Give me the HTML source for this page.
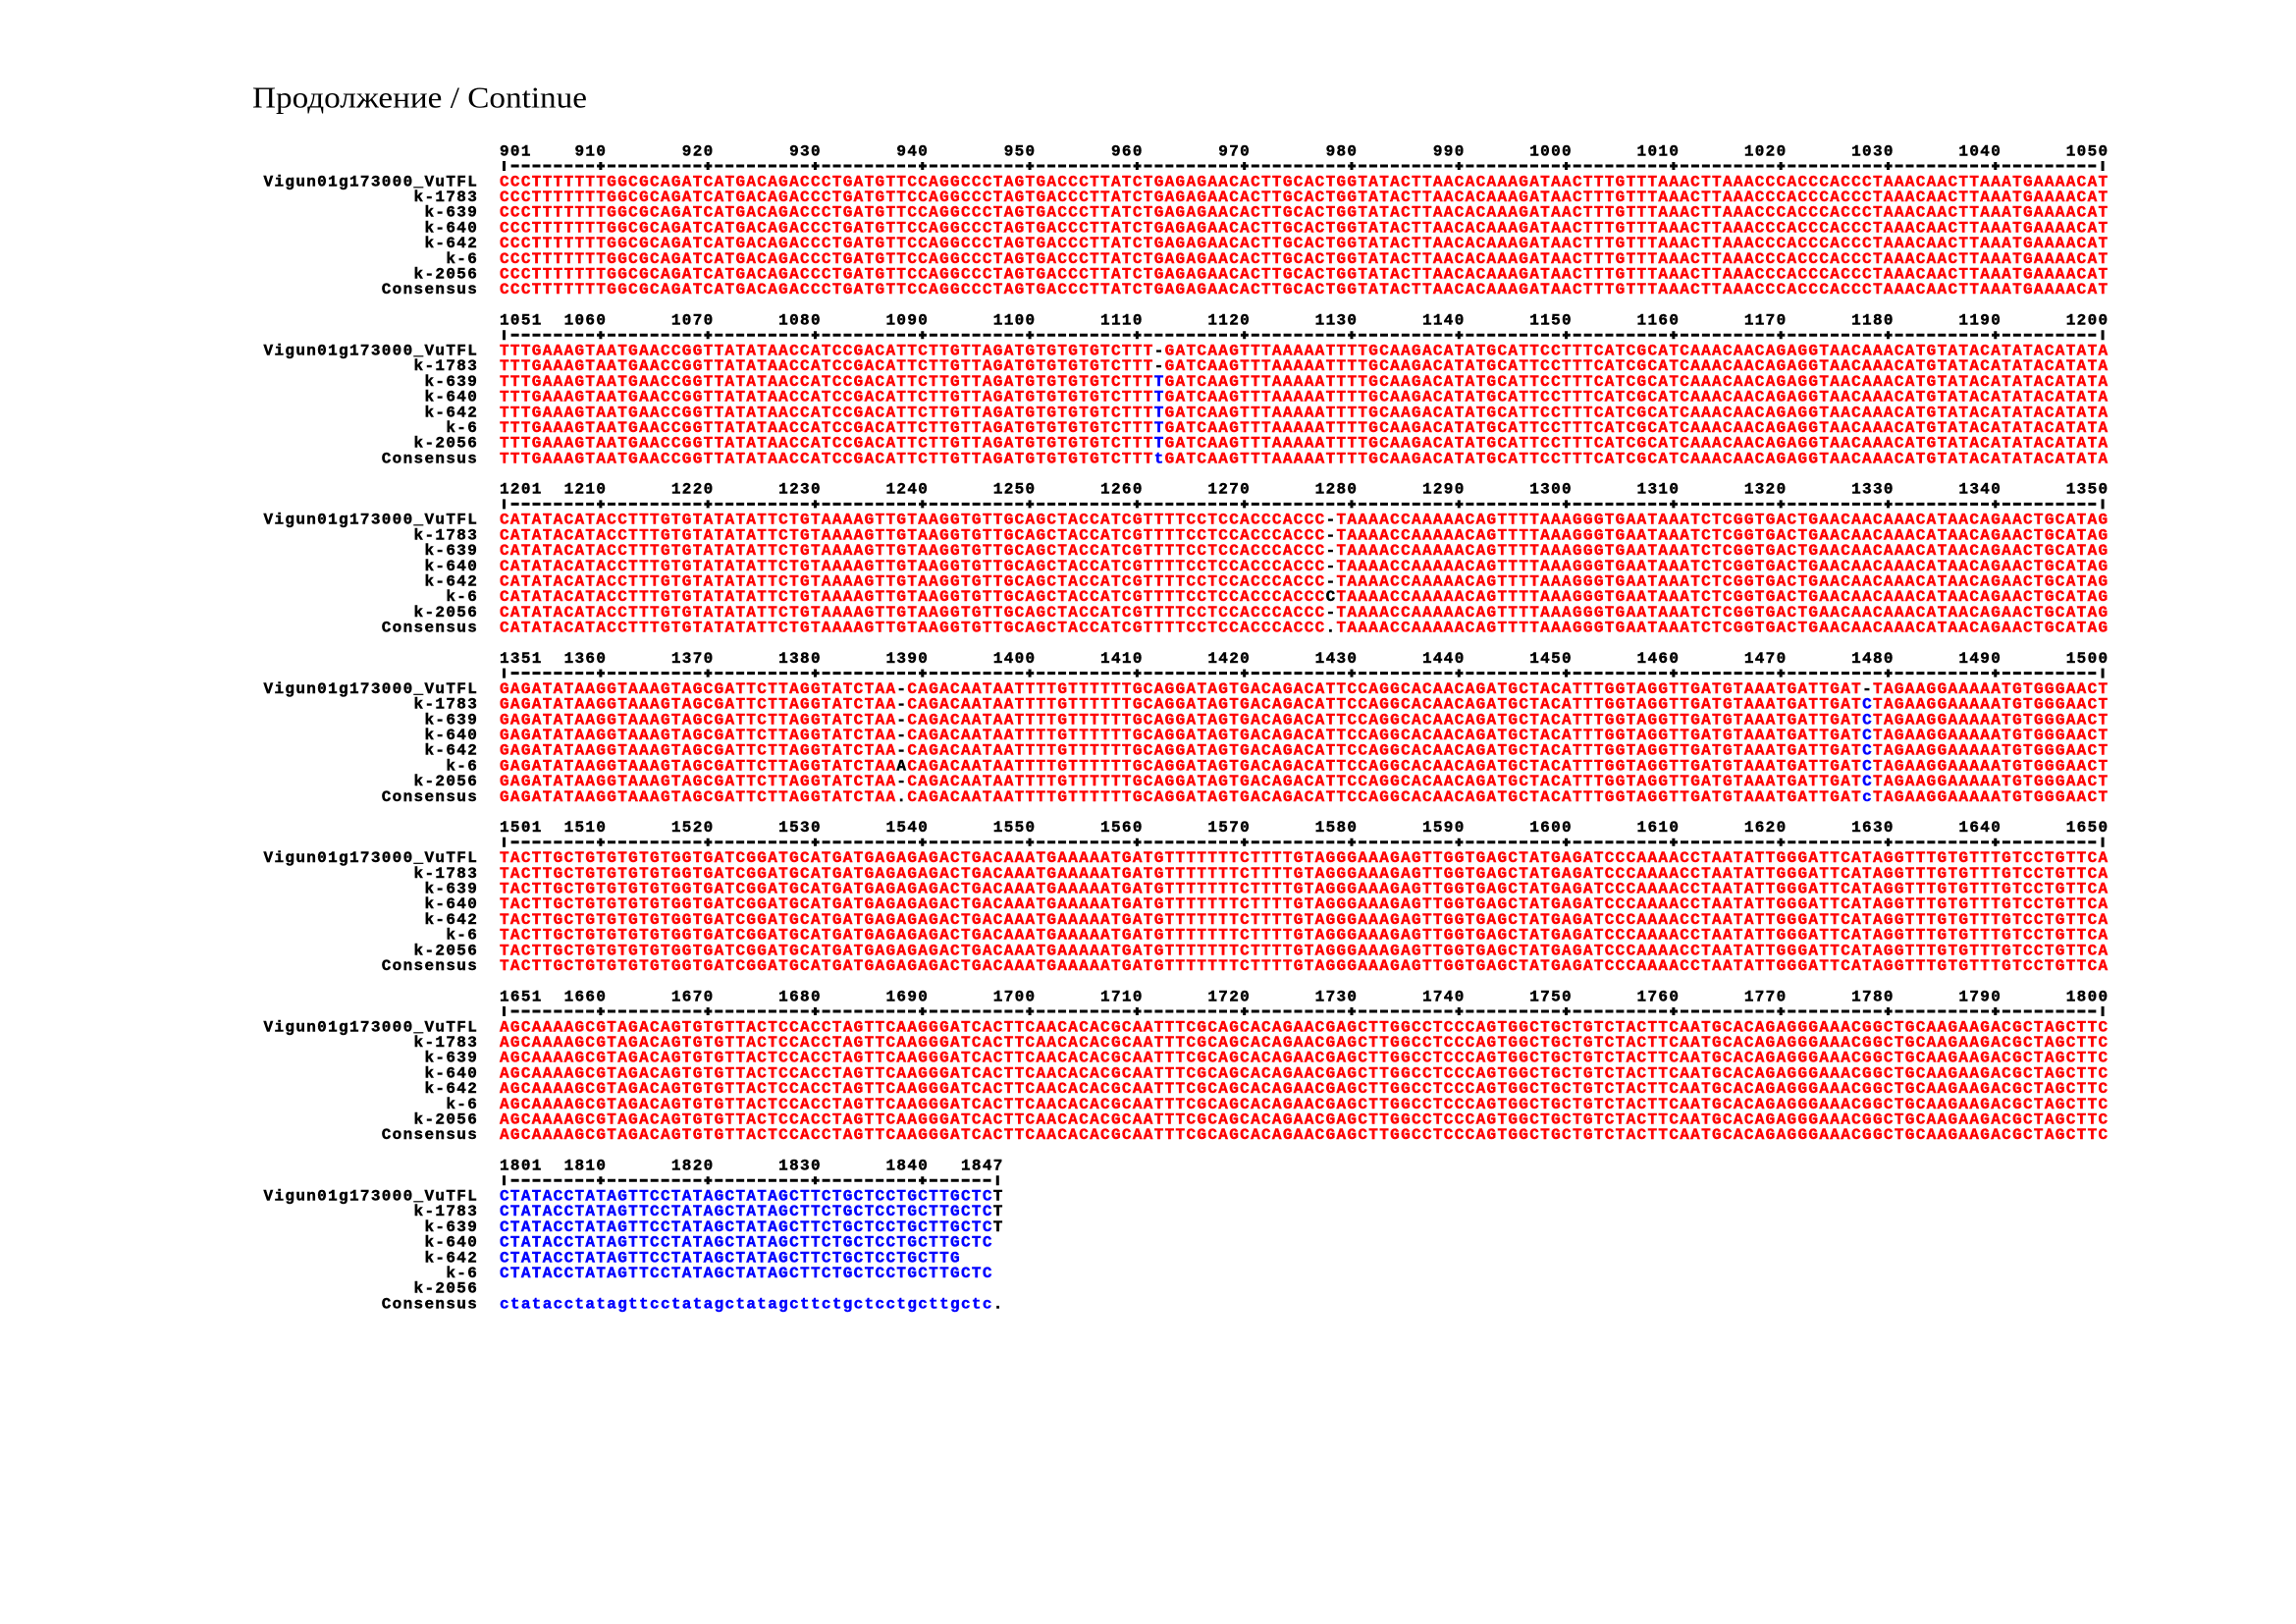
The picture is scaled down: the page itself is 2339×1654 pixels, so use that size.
<!DOCTYPE html>
<html><head><meta charset="utf-8"><title>Продолжение / Continue</title>
<style>
html,body{margin:0;padding:0;background:#fff;}
svg{display:block;}
text.m{font-family:"Liberation Mono",monospace;font-weight:bold;font-size:16px;letter-spacing:1.328px;white-space:pre;fill:#000;stroke:#000;stroke-width:0.45px;}
text.m.r,tspan.r{fill:#ff0000;stroke:#ff0000;}
text.m.b,tspan.b{fill:#0000ff;stroke:#0000ff;}
tspan.k{fill:#000;stroke:#000;}
text.t{font-family:"Liberation Serif","Noto Serif CJK SC",serif;font-size:31px;fill:#000;}
.rl{stroke:#000;stroke-width:3;stroke-dasharray:8 2.93;fill:none;}
.rp{stroke:#000;stroke-width:3;fill:none;}
</style></head>
<body>
<svg xmlns="http://www.w3.org/2000/svg" width="2339" height="1654" viewBox="0 0 2339 1654" xml:space="preserve">
<rect width="2339" height="1654" fill="#fff"/>
<text class="t" x="257" y="109.3" textLength="341" lengthAdjust="spacingAndGlyphs">Продолжение / Continue</text>

<!-- Block 1: 901-1050 -->
<g>
<text class="m" x="509" y="158.3">901    910       920       930       940       950       960       970       980       990      1000      1010      1020      1030      1040      1050</text>
<line class="rl" x1="520.63" y1="169" x2="2136" y2="169"/>
<path class="rp" d="M513.5,164v10M611.87,165v8M721.17,165v8M830.47,165v8M939.77,165v8M1049.07,165v8M1158.37,165v8M1267.67,165v8M1376.97,165v8M1486.27,165v8M1595.57,165v8M1704.87,165v8M1814.17,165v8M1923.47,165v8M2032.77,165v8M2142.07,164v10"/>
<text class="m" x="268.54" y="189.3">Vigun01g173000_VuTFL</text>
<text class="m" x="268.54" y="205.0">              k-1783</text>
<text class="m" x="268.54" y="220.7">               k-639</text>
<text class="m" x="268.54" y="236.4">               k-640</text>
<text class="m" x="268.54" y="252.1">               k-642</text>
<text class="m" x="268.54" y="267.8">                 k-6</text>
<text class="m" x="268.54" y="283.5">              k-2056</text>
<text class="m" x="268.54" y="299.2">           Consensus</text>
<text class="m r" x="509" y="189.3">CCCTTTTTTTGGCGCAGATCATGACAGACCCTGATGTTCCAGGCCCTAGTGACCCTTATCTGAGAGAACACTTGCACTGGTATACTTAACACAAAGATAACTTTGTTTAAACTTAAACCCACCCACCCTAAACAACTTAAATGAAAACAT</text>
<text class="m r" x="509" y="205.0">CCCTTTTTTTGGCGCAGATCATGACAGACCCTGATGTTCCAGGCCCTAGTGACCCTTATCTGAGAGAACACTTGCACTGGTATACTTAACACAAAGATAACTTTGTTTAAACTTAAACCCACCCACCCTAAACAACTTAAATGAAAACAT</text>
<text class="m r" x="509" y="220.7">CCCTTTTTTTGGCGCAGATCATGACAGACCCTGATGTTCCAGGCCCTAGTGACCCTTATCTGAGAGAACACTTGCACTGGTATACTTAACACAAAGATAACTTTGTTTAAACTTAAACCCACCCACCCTAAACAACTTAAATGAAAACAT</text>
<text class="m r" x="509" y="236.4">CCCTTTTTTTGGCGCAGATCATGACAGACCCTGATGTTCCAGGCCCTAGTGACCCTTATCTGAGAGAACACTTGCACTGGTATACTTAACACAAAGATAACTTTGTTTAAACTTAAACCCACCCACCCTAAACAACTTAAATGAAAACAT</text>
<text class="m r" x="509" y="252.1">CCCTTTTTTTGGCGCAGATCATGACAGACCCTGATGTTCCAGGCCCTAGTGACCCTTATCTGAGAGAACACTTGCACTGGTATACTTAACACAAAGATAACTTTGTTTAAACTTAAACCCACCCACCCTAAACAACTTAAATGAAAACAT</text>
<text class="m r" x="509" y="267.8">CCCTTTTTTTGGCGCAGATCATGACAGACCCTGATGTTCCAGGCCCTAGTGACCCTTATCTGAGAGAACACTTGCACTGGTATACTTAACACAAAGATAACTTTGTTTAAACTTAAACCCACCCACCCTAAACAACTTAAATGAAAACAT</text>
<text class="m r" x="509" y="283.5">CCCTTTTTTTGGCGCAGATCATGACAGACCCTGATGTTCCAGGCCCTAGTGACCCTTATCTGAGAGAACACTTGCACTGGTATACTTAACACAAAGATAACTTTGTTTAAACTTAAACCCACCCACCCTAAACAACTTAAATGAAAACAT</text>
<text class="m r" x="509" y="299.2">CCCTTTTTTTGGCGCAGATCATGACAGACCCTGATGTTCCAGGCCCTAGTGACCCTTATCTGAGAGAACACTTGCACTGGTATACTTAACACAAAGATAACTTTGTTTAAACTTAAACCCACCCACCCTAAACAACTTAAATGAAAACAT</text>
</g>

<!-- Block 2: 1051-1200 -->
<g>
<text class="m" x="509" y="330.5">1051  1060      1070      1080      1090      1100      1110      1120      1130      1140      1150      1160      1170      1180      1190      1200</text>
<line class="rl" x1="520.63" y1="341.2" x2="2136" y2="341.2"/>
<path class="rp" d="M513.5,336.2v10M611.87,337.2v8M721.17,337.2v8M830.47,337.2v8M939.77,337.2v8M1049.07,337.2v8M1158.37,337.2v8M1267.67,337.2v8M1376.97,337.2v8M1486.27,337.2v8M1595.57,337.2v8M1704.87,337.2v8M1814.17,337.2v8M1923.47,337.2v8M2032.77,337.2v8M2142.07,336.2v10"/>
<text class="m" x="268.54" y="361.5">Vigun01g173000_VuTFL</text>
<text class="m" x="268.54" y="377.2">              k-1783</text>
<text class="m" x="268.54" y="392.9">               k-639</text>
<text class="m" x="268.54" y="408.6">               k-640</text>
<text class="m" x="268.54" y="424.3">               k-642</text>
<text class="m" x="268.54" y="440.0">                 k-6</text>
<text class="m" x="268.54" y="455.7">              k-2056</text>
<text class="m" x="268.54" y="471.4">           Consensus</text>
<text class="m r" x="509" y="361.5">TTTGAAAGTAATGAACCGGTTATATAACCATCCGACATTCTTGTTAGATGTGTGTGTCTTT<tspan class="k">-</tspan>GATCAAGTTTAAAAATTTTGCAAGACATATGCATTCCTTTCATCGCATCAAACAACAGAGGTAACAAACATGTATACATATACATATA</text>
<text class="m r" x="509" y="377.2">TTTGAAAGTAATGAACCGGTTATATAACCATCCGACATTCTTGTTAGATGTGTGTGTCTTT<tspan class="k">-</tspan>GATCAAGTTTAAAAATTTTGCAAGACATATGCATTCCTTTCATCGCATCAAACAACAGAGGTAACAAACATGTATACATATACATATA</text>
<text class="m r" x="509" y="392.9">TTTGAAAGTAATGAACCGGTTATATAACCATCCGACATTCTTGTTAGATGTGTGTGTCTTT<tspan class="b">T</tspan>GATCAAGTTTAAAAATTTTGCAAGACATATGCATTCCTTTCATCGCATCAAACAACAGAGGTAACAAACATGTATACATATACATATA</text>
<text class="m r" x="509" y="408.6">TTTGAAAGTAATGAACCGGTTATATAACCATCCGACATTCTTGTTAGATGTGTGTGTCTTT<tspan class="b">T</tspan>GATCAAGTTTAAAAATTTTGCAAGACATATGCATTCCTTTCATCGCATCAAACAACAGAGGTAACAAACATGTATACATATACATATA</text>
<text class="m r" x="509" y="424.3">TTTGAAAGTAATGAACCGGTTATATAACCATCCGACATTCTTGTTAGATGTGTGTGTCTTT<tspan class="b">T</tspan>GATCAAGTTTAAAAATTTTGCAAGACATATGCATTCCTTTCATCGCATCAAACAACAGAGGTAACAAACATGTATACATATACATATA</text>
<text class="m r" x="509" y="440.0">TTTGAAAGTAATGAACCGGTTATATAACCATCCGACATTCTTGTTAGATGTGTGTGTCTTT<tspan class="b">T</tspan>GATCAAGTTTAAAAATTTTGCAAGACATATGCATTCCTTTCATCGCATCAAACAACAGAGGTAACAAACATGTATACATATACATATA</text>
<text class="m r" x="509" y="455.7">TTTGAAAGTAATGAACCGGTTATATAACCATCCGACATTCTTGTTAGATGTGTGTGTCTTT<tspan class="b">T</tspan>GATCAAGTTTAAAAATTTTGCAAGACATATGCATTCCTTTCATCGCATCAAACAACAGAGGTAACAAACATGTATACATATACATATA</text>
<text class="m r" x="509" y="471.4">TTTGAAAGTAATGAACCGGTTATATAACCATCCGACATTCTTGTTAGATGTGTGTGTCTTT<tspan class="b">t</tspan>GATCAAGTTTAAAAATTTTGCAAGACATATGCATTCCTTTCATCGCATCAAACAACAGAGGTAACAAACATGTATACATATACATATA</text>
</g>

<!-- Block 3: 1201-1350 -->
<g>
<text class="m" x="509" y="502.7">1201  1210      1220      1230      1240      1250      1260      1270      1280      1290      1300      1310      1320      1330      1340      1350</text>
<line class="rl" x1="520.63" y1="513.4" x2="2136" y2="513.4"/>
<path class="rp" d="M513.5,508.4v10M611.87,509.4v8M721.17,509.4v8M830.47,509.4v8M939.77,509.4v8M1049.07,509.4v8M1158.37,509.4v8M1267.67,509.4v8M1376.97,509.4v8M1486.27,509.4v8M1595.57,509.4v8M1704.87,509.4v8M1814.17,509.4v8M1923.47,509.4v8M2032.77,509.4v8M2142.07,508.4v10"/>
<text class="m" x="268.54" y="533.7">Vigun01g173000_VuTFL</text>
<text class="m" x="268.54" y="549.4">              k-1783</text>
<text class="m" x="268.54" y="565.1">               k-639</text>
<text class="m" x="268.54" y="580.8">               k-640</text>
<text class="m" x="268.54" y="596.5">               k-642</text>
<text class="m" x="268.54" y="612.2">                 k-6</text>
<text class="m" x="268.54" y="627.9">              k-2056</text>
<text class="m" x="268.54" y="643.6">           Consensus</text>
<text class="m r" x="509" y="533.7">CATATACATACCTTTGTGTATATATTCTGTAAAAGTTGTAAGGTGTTGCAGCTACCATCGTTTTCCTCCACCCACCC<tspan class="k">-</tspan>TAAAACCAAAAACAGTTTTAAAGGGTGAATAAATCTCGGTGACTGAACAACAAACATAACAGAACTGCATAG</text>
<text class="m r" x="509" y="549.4">CATATACATACCTTTGTGTATATATTCTGTAAAAGTTGTAAGGTGTTGCAGCTACCATCGTTTTCCTCCACCCACCC<tspan class="k">-</tspan>TAAAACCAAAAACAGTTTTAAAGGGTGAATAAATCTCGGTGACTGAACAACAAACATAACAGAACTGCATAG</text>
<text class="m r" x="509" y="565.1">CATATACATACCTTTGTGTATATATTCTGTAAAAGTTGTAAGGTGTTGCAGCTACCATCGTTTTCCTCCACCCACCC<tspan class="k">-</tspan>TAAAACCAAAAACAGTTTTAAAGGGTGAATAAATCTCGGTGACTGAACAACAAACATAACAGAACTGCATAG</text>
<text class="m r" x="509" y="580.8">CATATACATACCTTTGTGTATATATTCTGTAAAAGTTGTAAGGTGTTGCAGCTACCATCGTTTTCCTCCACCCACCC<tspan class="k">-</tspan>TAAAACCAAAAACAGTTTTAAAGGGTGAATAAATCTCGGTGACTGAACAACAAACATAACAGAACTGCATAG</text>
<text class="m r" x="509" y="596.5">CATATACATACCTTTGTGTATATATTCTGTAAAAGTTGTAAGGTGTTGCAGCTACCATCGTTTTCCTCCACCCACCC<tspan class="k">-</tspan>TAAAACCAAAAACAGTTTTAAAGGGTGAATAAATCTCGGTGACTGAACAACAAACATAACAGAACTGCATAG</text>
<text class="m r" x="509" y="612.2">CATATACATACCTTTGTGTATATATTCTGTAAAAGTTGTAAGGTGTTGCAGCTACCATCGTTTTCCTCCACCCACCC<tspan class="k">C</tspan>TAAAACCAAAAACAGTTTTAAAGGGTGAATAAATCTCGGTGACTGAACAACAAACATAACAGAACTGCATAG</text>
<text class="m r" x="509" y="627.9">CATATACATACCTTTGTGTATATATTCTGTAAAAGTTGTAAGGTGTTGCAGCTACCATCGTTTTCCTCCACCCACCC<tspan class="k">-</tspan>TAAAACCAAAAACAGTTTTAAAGGGTGAATAAATCTCGGTGACTGAACAACAAACATAACAGAACTGCATAG</text>
<text class="m r" x="509" y="643.6">CATATACATACCTTTGTGTATATATTCTGTAAAAGTTGTAAGGTGTTGCAGCTACCATCGTTTTCCTCCACCCACCC<tspan class="k">.</tspan>TAAAACCAAAAACAGTTTTAAAGGGTGAATAAATCTCGGTGACTGAACAACAAACATAACAGAACTGCATAG</text>
</g>

<!-- Block 4: 1351-1500 -->
<g>
<text class="m" x="509" y="674.9">1351  1360      1370      1380      1390      1400      1410      1420      1430      1440      1450      1460      1470      1480      1490      1500</text>
<line class="rl" x1="520.63" y1="685.6" x2="2136" y2="685.6"/>
<path class="rp" d="M513.5,680.6v10M611.87,681.6v8M721.17,681.6v8M830.47,681.6v8M939.77,681.6v8M1049.07,681.6v8M1158.37,681.6v8M1267.67,681.6v8M1376.97,681.6v8M1486.27,681.6v8M1595.57,681.6v8M1704.87,681.6v8M1814.17,681.6v8M1923.47,681.6v8M2032.77,681.6v8M2142.07,680.6v10"/>
<text class="m" x="268.54" y="705.9">Vigun01g173000_VuTFL</text>
<text class="m" x="268.54" y="721.6">              k-1783</text>
<text class="m" x="268.54" y="737.3">               k-639</text>
<text class="m" x="268.54" y="753.0">               k-640</text>
<text class="m" x="268.54" y="768.7">               k-642</text>
<text class="m" x="268.54" y="784.4">                 k-6</text>
<text class="m" x="268.54" y="800.1">              k-2056</text>
<text class="m" x="268.54" y="815.8">           Consensus</text>
<text class="m r" x="509" y="705.9">GAGATATAAGGTAAAGTAGCGATTCTTAGGTATCTAA<tspan class="k">-</tspan>CAGACAATAATTTTGTTTTTTGCAGGATAGTGACAGACATTCCAGGCACAACAGATGCTACATTTGGTAGGTTGATGTAAATGATTGAT<tspan class="k">-</tspan>TAGAAGGAAAAATGTGGGAACT</text>
<text class="m r" x="509" y="721.6">GAGATATAAGGTAAAGTAGCGATTCTTAGGTATCTAA<tspan class="k">-</tspan>CAGACAATAATTTTGTTTTTTGCAGGATAGTGACAGACATTCCAGGCACAACAGATGCTACATTTGGTAGGTTGATGTAAATGATTGAT<tspan class="b">C</tspan>TAGAAGGAAAAATGTGGGAACT</text>
<text class="m r" x="509" y="737.3">GAGATATAAGGTAAAGTAGCGATTCTTAGGTATCTAA<tspan class="k">-</tspan>CAGACAATAATTTTGTTTTTTGCAGGATAGTGACAGACATTCCAGGCACAACAGATGCTACATTTGGTAGGTTGATGTAAATGATTGAT<tspan class="b">C</tspan>TAGAAGGAAAAATGTGGGAACT</text>
<text class="m r" x="509" y="753.0">GAGATATAAGGTAAAGTAGCGATTCTTAGGTATCTAA<tspan class="k">-</tspan>CAGACAATAATTTTGTTTTTTGCAGGATAGTGACAGACATTCCAGGCACAACAGATGCTACATTTGGTAGGTTGATGTAAATGATTGAT<tspan class="b">C</tspan>TAGAAGGAAAAATGTGGGAACT</text>
<text class="m r" x="509" y="768.7">GAGATATAAGGTAAAGTAGCGATTCTTAGGTATCTAA<tspan class="k">-</tspan>CAGACAATAATTTTGTTTTTTGCAGGATAGTGACAGACATTCCAGGCACAACAGATGCTACATTTGGTAGGTTGATGTAAATGATTGAT<tspan class="b">C</tspan>TAGAAGGAAAAATGTGGGAACT</text>
<text class="m r" x="509" y="784.4">GAGATATAAGGTAAAGTAGCGATTCTTAGGTATCTAA<tspan class="k">A</tspan>CAGACAATAATTTTGTTTTTTGCAGGATAGTGACAGACATTCCAGGCACAACAGATGCTACATTTGGTAGGTTGATGTAAATGATTGAT<tspan class="b">C</tspan>TAGAAGGAAAAATGTGGGAACT</text>
<text class="m r" x="509" y="800.1">GAGATATAAGGTAAAGTAGCGATTCTTAGGTATCTAA<tspan class="k">-</tspan>CAGACAATAATTTTGTTTTTTGCAGGATAGTGACAGACATTCCAGGCACAACAGATGCTACATTTGGTAGGTTGATGTAAATGATTGAT<tspan class="b">C</tspan>TAGAAGGAAAAATGTGGGAACT</text>
<text class="m r" x="509" y="815.8">GAGATATAAGGTAAAGTAGCGATTCTTAGGTATCTAA<tspan class="k">.</tspan>CAGACAATAATTTTGTTTTTTGCAGGATAGTGACAGACATTCCAGGCACAACAGATGCTACATTTGGTAGGTTGATGTAAATGATTGAT<tspan class="b">c</tspan>TAGAAGGAAAAATGTGGGAACT</text>
</g>

<!-- Block 5: 1501-1650 -->
<g>
<text class="m" x="509" y="847.1">1501  1510      1520      1530      1540      1550      1560      1570      1580      1590      1600      1610      1620      1630      1640      1650</text>
<line class="rl" x1="520.63" y1="857.8" x2="2136" y2="857.8"/>
<path class="rp" d="M513.5,852.8v10M611.87,853.8v8M721.17,853.8v8M830.47,853.8v8M939.77,853.8v8M1049.07,853.8v8M1158.37,853.8v8M1267.67,853.8v8M1376.97,853.8v8M1486.27,853.8v8M1595.57,853.8v8M1704.87,853.8v8M1814.17,853.8v8M1923.47,853.8v8M2032.77,853.8v8M2142.07,852.8v10"/>
<text class="m" x="268.54" y="878.1">Vigun01g173000_VuTFL</text>
<text class="m" x="268.54" y="893.8">              k-1783</text>
<text class="m" x="268.54" y="909.5">               k-639</text>
<text class="m" x="268.54" y="925.2">               k-640</text>
<text class="m" x="268.54" y="940.9">               k-642</text>
<text class="m" x="268.54" y="956.6">                 k-6</text>
<text class="m" x="268.54" y="972.3">              k-2056</text>
<text class="m" x="268.54" y="988.0">           Consensus</text>
<text class="m r" x="509" y="878.1">TACTTGCTGTGTGTGTGGTGATCGGATGCATGATGAGAGAGACTGACAAATGAAAAATGATGTTTTTTTCTTTTGTAGGGAAAGAGTTGGTGAGCTATGAGATCCCAAAACCTAATATTGGGATTCATAGGTTTGTGTTTGTCCTGTTCA</text>
<text class="m r" x="509" y="893.8">TACTTGCTGTGTGTGTGGTGATCGGATGCATGATGAGAGAGACTGACAAATGAAAAATGATGTTTTTTTCTTTTGTAGGGAAAGAGTTGGTGAGCTATGAGATCCCAAAACCTAATATTGGGATTCATAGGTTTGTGTTTGTCCTGTTCA</text>
<text class="m r" x="509" y="909.5">TACTTGCTGTGTGTGTGGTGATCGGATGCATGATGAGAGAGACTGACAAATGAAAAATGATGTTTTTTTCTTTTGTAGGGAAAGAGTTGGTGAGCTATGAGATCCCAAAACCTAATATTGGGATTCATAGGTTTGTGTTTGTCCTGTTCA</text>
<text class="m r" x="509" y="925.2">TACTTGCTGTGTGTGTGGTGATCGGATGCATGATGAGAGAGACTGACAAATGAAAAATGATGTTTTTTTCTTTTGTAGGGAAAGAGTTGGTGAGCTATGAGATCCCAAAACCTAATATTGGGATTCATAGGTTTGTGTTTGTCCTGTTCA</text>
<text class="m r" x="509" y="940.9">TACTTGCTGTGTGTGTGGTGATCGGATGCATGATGAGAGAGACTGACAAATGAAAAATGATGTTTTTTTCTTTTGTAGGGAAAGAGTTGGTGAGCTATGAGATCCCAAAACCTAATATTGGGATTCATAGGTTTGTGTTTGTCCTGTTCA</text>
<text class="m r" x="509" y="956.6">TACTTGCTGTGTGTGTGGTGATCGGATGCATGATGAGAGAGACTGACAAATGAAAAATGATGTTTTTTTCTTTTGTAGGGAAAGAGTTGGTGAGCTATGAGATCCCAAAACCTAATATTGGGATTCATAGGTTTGTGTTTGTCCTGTTCA</text>
<text class="m r" x="509" y="972.3">TACTTGCTGTGTGTGTGGTGATCGGATGCATGATGAGAGAGACTGACAAATGAAAAATGATGTTTTTTTCTTTTGTAGGGAAAGAGTTGGTGAGCTATGAGATCCCAAAACCTAATATTGGGATTCATAGGTTTGTGTTTGTCCTGTTCA</text>
<text class="m r" x="509" y="988.0">TACTTGCTGTGTGTGTGGTGATCGGATGCATGATGAGAGAGACTGACAAATGAAAAATGATGTTTTTTTCTTTTGTAGGGAAAGAGTTGGTGAGCTATGAGATCCCAAAACCTAATATTGGGATTCATAGGTTTGTGTTTGTCCTGTTCA</text>
</g>

<!-- Block 6: 1651-1800 -->
<g>
<text class="m" x="509" y="1019.3">1651  1660      1670      1680      1690      1700      1710      1720      1730      1740      1750      1760      1770      1780      1790      1800</text>
<line class="rl" x1="520.63" y1="1030" x2="2136" y2="1030"/>
<path class="rp" d="M513.5,1025v10M611.87,1026v8M721.17,1026v8M830.47,1026v8M939.77,1026v8M1049.07,1026v8M1158.37,1026v8M1267.67,1026v8M1376.97,1026v8M1486.27,1026v8M1595.57,1026v8M1704.87,1026v8M1814.17,1026v8M1923.47,1026v8M2032.77,1026v8M2142.07,1025v10"/>
<text class="m" x="268.54" y="1050.3">Vigun01g173000_VuTFL</text>
<text class="m" x="268.54" y="1066.0">              k-1783</text>
<text class="m" x="268.54" y="1081.7">               k-639</text>
<text class="m" x="268.54" y="1097.4">               k-640</text>
<text class="m" x="268.54" y="1113.1">               k-642</text>
<text class="m" x="268.54" y="1128.8">                 k-6</text>
<text class="m" x="268.54" y="1144.5">              k-2056</text>
<text class="m" x="268.54" y="1160.2">           Consensus</text>
<text class="m r" x="509" y="1050.3">AGCAAAAGCGTAGACAGTGTGTTACTCCACCTAGTTCAAGGGATCACTTCAACACACGCAATTTCGCAGCACAGAACGAGCTTGGCCTCCCAGTGGCTGCTGTCTACTTCAATGCACAGAGGGAAACGGCTGCAAGAAGACGCTAGCTTC</text>
<text class="m r" x="509" y="1066.0">AGCAAAAGCGTAGACAGTGTGTTACTCCACCTAGTTCAAGGGATCACTTCAACACACGCAATTTCGCAGCACAGAACGAGCTTGGCCTCCCAGTGGCTGCTGTCTACTTCAATGCACAGAGGGAAACGGCTGCAAGAAGACGCTAGCTTC</text>
<text class="m r" x="509" y="1081.7">AGCAAAAGCGTAGACAGTGTGTTACTCCACCTAGTTCAAGGGATCACTTCAACACACGCAATTTCGCAGCACAGAACGAGCTTGGCCTCCCAGTGGCTGCTGTCTACTTCAATGCACAGAGGGAAACGGCTGCAAGAAGACGCTAGCTTC</text>
<text class="m r" x="509" y="1097.4">AGCAAAAGCGTAGACAGTGTGTTACTCCACCTAGTTCAAGGGATCACTTCAACACACGCAATTTCGCAGCACAGAACGAGCTTGGCCTCCCAGTGGCTGCTGTCTACTTCAATGCACAGAGGGAAACGGCTGCAAGAAGACGCTAGCTTC</text>
<text class="m r" x="509" y="1113.1">AGCAAAAGCGTAGACAGTGTGTTACTCCACCTAGTTCAAGGGATCACTTCAACACACGCAATTTCGCAGCACAGAACGAGCTTGGCCTCCCAGTGGCTGCTGTCTACTTCAATGCACAGAGGGAAACGGCTGCAAGAAGACGCTAGCTTC</text>
<text class="m r" x="509" y="1128.8">AGCAAAAGCGTAGACAGTGTGTTACTCCACCTAGTTCAAGGGATCACTTCAACACACGCAATTTCGCAGCACAGAACGAGCTTGGCCTCCCAGTGGCTGCTGTCTACTTCAATGCACAGAGGGAAACGGCTGCAAGAAGACGCTAGCTTC</text>
<text class="m r" x="509" y="1144.5">AGCAAAAGCGTAGACAGTGTGTTACTCCACCTAGTTCAAGGGATCACTTCAACACACGCAATTTCGCAGCACAGAACGAGCTTGGCCTCCCAGTGGCTGCTGTCTACTTCAATGCACAGAGGGAAACGGCTGCAAGAAGACGCTAGCTTC</text>
<text class="m r" x="509" y="1160.2">AGCAAAAGCGTAGACAGTGTGTTACTCCACCTAGTTCAAGGGATCACTTCAACACACGCAATTTCGCAGCACAGAACGAGCTTGGCCTCCCAGTGGCTGCTGTCTACTTCAATGCACAGAGGGAAACGGCTGCAAGAAGACGCTAGCTTC</text>
</g>

<!-- Block 7: 1801-1847 -->
<g>
<text class="m" x="509" y="1191.5">1801  1810      1820      1830      1840   1847</text>
<line class="rl" x1="520.63" y1="1202.2" x2="1010" y2="1202.2"/>
<path class="rp" d="M513.5,1197.2v10M611.87,1198.2v8M721.17,1198.2v8M830.47,1198.2v8M939.77,1198.2v8M1016.28,1197.2v10"/>
<text class="m" x="268.54" y="1222.5">Vigun01g173000_VuTFL</text>
<text class="m" x="268.54" y="1238.2">              k-1783</text>
<text class="m" x="268.54" y="1253.9">               k-639</text>
<text class="m" x="268.54" y="1269.6">               k-640</text>
<text class="m" x="268.54" y="1285.3">               k-642</text>
<text class="m" x="268.54" y="1301.0">                 k-6</text>
<text class="m" x="268.54" y="1316.7">              k-2056</text>
<text class="m" x="268.54" y="1332.4">           Consensus</text>
<text class="m b" x="509" y="1222.5">CTATACCTATAGTTCCTATAGCTATAGCTTCTGCTCCTGCTTGCTC<tspan class="k">T</tspan></text>
<text class="m b" x="509" y="1238.2">CTATACCTATAGTTCCTATAGCTATAGCTTCTGCTCCTGCTTGCTC<tspan class="k">T</tspan></text>
<text class="m b" x="509" y="1253.9">CTATACCTATAGTTCCTATAGCTATAGCTTCTGCTCCTGCTTGCTC<tspan class="k">T</tspan></text>
<text class="m b" x="509" y="1269.6">CTATACCTATAGTTCCTATAGCTATAGCTTCTGCTCCTGCTTGCTC</text>
<text class="m b" x="509" y="1285.3">CTATACCTATAGTTCCTATAGCTATAGCTTCTGCTCCTGCTTG</text>
<text class="m b" x="509" y="1301.0">CTATACCTATAGTTCCTATAGCTATAGCTTCTGCTCCTGCTTGCTC</text>
<text class="m b" x="509" y="1332.4">ctatacctatagttcctatagctatagcttctgctcctgcttgctc<tspan class="k">.</tspan></text>
</g>
</svg>
</body></html>
